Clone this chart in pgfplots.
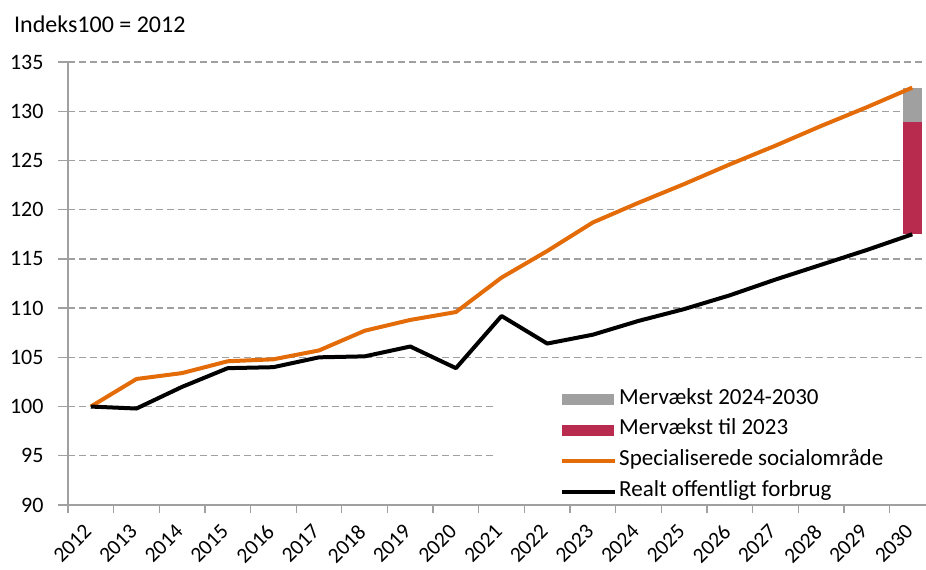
\documentclass[border=0pt]{standalone}
\usepackage{fontspec}
\setmainfont{Carlito}
\usepackage{pgfplots}
\pgfplotsset{compat=1.18}
\definecolor{orangeL}{RGB}{227,108,9}
\definecolor{redB}{RGB}{184,42,78}
\definecolor{grayB}{RGB}{160,160,160}
\definecolor{gridc}{RGB}{160,160,160}
\newcommand{\chartfont}{\fontsize{23}{27}\selectfont}
\begin{document}
\begin{tikzpicture}
\begin{axis}[
 at={(0pt,0pt)}, anchor=south west,
 scale only axis, width=858pt, height=443pt,
 xmin=-0.5, xmax=18.3, ymin=90, ymax=135,
 axis x line*=bottom, axis y line*=left,
 axis line style={-, draw=gridc, line width=1.3pt},
 font=\chartfont,
 /pgf/number format/assume math mode=true,
 ytick={90,95,...,135},
 yticklabel style={/pgf/number format/1000 sep={}, xshift=-11pt, font=\fontsize{22}{26}\selectfont},
 tick align=outside,
 major tick length=10pt,
 minor tick length=8pt,
 ytick style={draw=gridc, line width=1.3pt},
 xtick={0,...,18},
 xticklabels={2012,2013,2014,2015,2016,2017,2018,2019,2020,2021,2022,2023,2024,2025,2026,2027,2028,2029,2030},
 xtick style={draw=none},
 minor xtick={-0.5,0.5,...,17.5},
 minor x tick style={draw=gridc, line width=1.3pt},
 xticklabel style={inner sep=0pt, anchor=north east, xshift=-8pt, yshift=-8pt, rotate=45, font=\fontsize{21.5}{25}\selectfont},
 ymajorgrids,
 grid style={draw=gridc, line width=1.3pt, dash pattern=on 7pt off 4pt},
 clip=false,
 legend style={at={(0.4977,0.2664)}, anchor=north west, draw=none, fill=white,
   inner xsep=65pt, inner ysep=2pt, row sep=10.8pt,
   nodes={inner xsep=2pt, inner ysep=0pt, text height=15pt, text depth=5pt},
   font=\chartfont},
 legend cell align=left,
]
\addlegendimage{legend image code/.code={\fill[grayB] (0pt,-5pt) rectangle (51pt,5pt);}}
\addlegendentry{Mervækst 2024-2030}
\addlegendimage{legend image code/.code={\fill[redB] (0pt,-5pt) rectangle (51pt,5pt);}}
\addlegendentry{Mervækst til 2023}
\addlegendimage{legend image code/.code={\draw[orangeL, line width=4pt] (0pt,0pt) -- (53pt,0pt);}}
\addlegendentry{Specialiserede socialområde}
\addlegendimage{legend image code/.code={\draw[black, line width=4pt] (0pt,0pt) -- (53pt,0pt);}}
\addlegendentry{Realt offentligt forbrug}

\addplot[ybar, stack plots=y, bar width=19pt, bar shift=0pt, draw=none, fill=none, forget plot] coordinates {(18,117.5)};
\addplot[ybar, stack plots=y, bar width=19pt, bar shift=0pt, draw=none, fill=redB, forget plot] coordinates {(18,11.4)};
\addplot[ybar, stack plots=y, bar width=19pt, bar shift=0pt, draw=none, fill=grayB, forget plot] coordinates {(18,3.5)};

\addplot[orangeL, line width=4pt, line join=round, forget plot] coordinates {
(0,100) (1,102.8) (2,103.4) (3,104.6) (4,104.8) (5,105.7) (6,107.7) (7,108.8) (8,109.6) (9,113.1)
(10,115.8) (11,118.7) (12,120.7) (13,122.6) (14,124.6) (15,126.5) (16,128.5) (17,130.4) (18,132.4)};
\addplot[black, line width=4pt, line join=round, forget plot] coordinates {
(0,100) (1,99.8) (2,102.0) (3,103.9) (4,104.0) (5,105.0) (6,105.1) (7,106.1) (8,103.9) (9,109.2)
(10,106.4) (11,107.3) (12,108.7) (13,109.9) (14,111.3) (15,112.9) (16,114.4) (17,115.9) (18,117.5)};
\end{axis}
\node[anchor=base west, font=\fontsize{24}{28}\selectfont, inner sep=0pt] at (-54pt,472pt) {Indeks100 = 2012};
\pgfresetboundingbox
\path (-68pt,-65pt) rectangle (858pt,505pt);
\end{tikzpicture}
\end{document}
